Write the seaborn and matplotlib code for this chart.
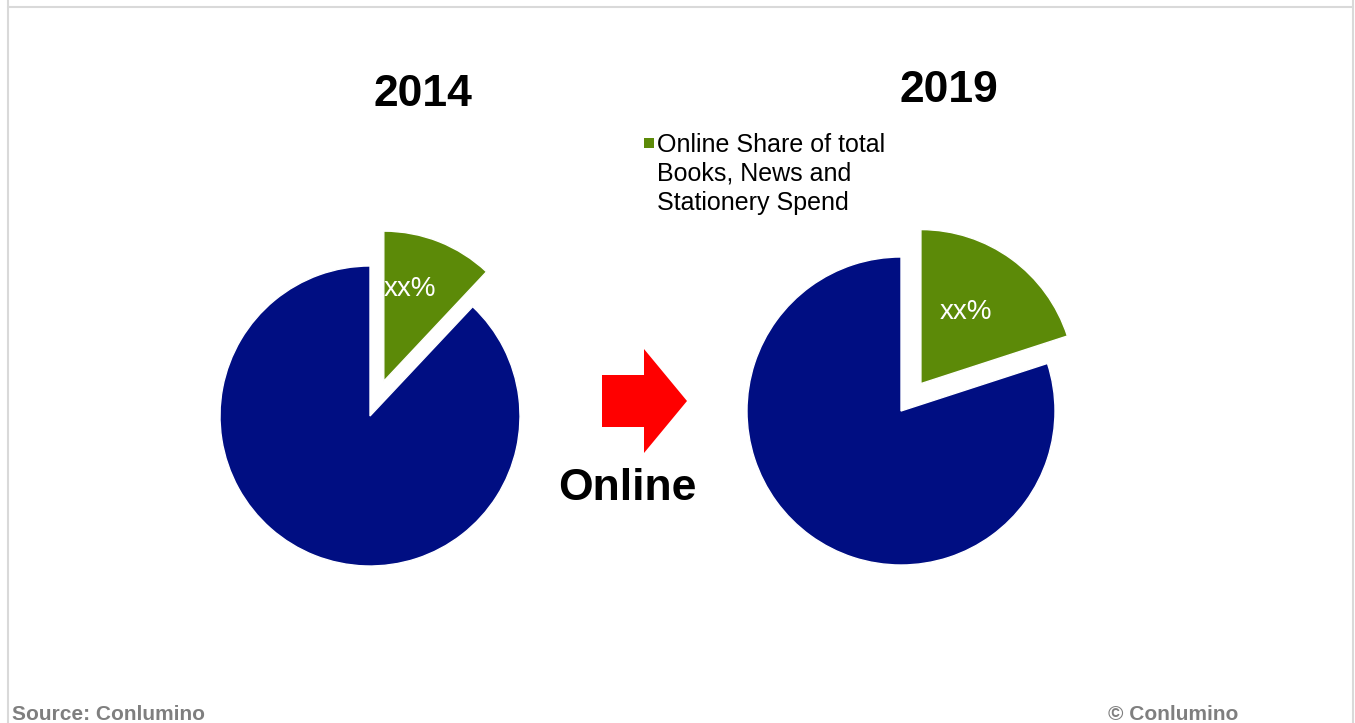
import matplotlib
matplotlib.use("Agg")
import matplotlib.pyplot as plt
from matplotlib.lines import Line2D
from matplotlib.patches import FancyArrow, Rectangle
import numpy as np
import seaborn as sns

# data
years = ["2014", "2019"]
online_share = [12, 20]
other_share = [88, 80]
pct_labels = ["xx%", "xx%"]
legend_label = "Online Share of total\nBooks, News and\nStationery Spend"
arrow_label = "Online"
source_text = "Source: Conlumino"
copyright_text = "\u00a9 Conlumino"

W, H = 1355, 723
GREEN = "#5C8A08"
BLUE = "#000E82"
GREY = "#7f7f7f"

sns.set_theme(style="white")
plt.rcParams["font.family"] = ["Liberation Sans", "DejaVu Sans"]
colors = sns.color_palette([GREEN, BLUE])

fig = plt.figure(figsize=(W / 100, H / 100), dpi=100)


def fx(x):
    return x / W


def fy(y):
    return 1 - y / H


# pie layouts: centre (px), radius (px), explode, label distance / angular position
pies = [
    dict(cx=370, cy=416, r=150, explode=0.25, ld=0.64, lf=0.36, title=(423, 94)),
    dict(cx=901, cy=411, r=154, explode=0.22, ld=0.55, lf=0.45, title=(949, 90)),
]

for i, p in enumerate(pies):
    side = 2.5 * p["r"]
    ax = fig.add_axes([fx(p["cx"] - side / 2), fy(p["cy"] + side / 2), side / W, side / H])
    wedges, texts = ax.pie(
        [online_share[i], other_share[i]],
        colors=colors,
        explode=[p["explode"], 0],
        startangle=90,
        counterclock=False,
    )
    # percentage label placed inside the online wedge
    w = wedges[0]
    th = np.deg2rad(w.theta2 - p["lf"] * (w.theta2 - w.theta1))
    wx, wy = w.center
    ax.text(wx + p["ld"] * w.r * np.cos(th), wy + p["ld"] * w.r * np.sin(th),
            pct_labels[i], ha="center", va="center", color="white", fontsize=20)
    ax.set_xlim(-1.25, 1.25)
    ax.set_ylim(-1.25, 1.25)
    ax.set_aspect("equal")
    ax.axis("off")
    tx, ty = p["title"]
    fig.text(fx(tx), fy(ty), years[i], ha="center", va="center",
             fontsize=32, fontweight="bold", color="black")

# legend (square marker aligned with first line)
fig.patches.append(Rectangle((fx(644), fy(148)), 10 / W, 10 / H,
                             transform=fig.transFigure, facecolor=GREEN,
                             edgecolor="none"))
fig.text(fx(657), fy(133), legend_label, ha="left", va="top", fontsize=18,
         color="black", linespacing=1.26)

# red arrow + "Online"
fig.patches.append(FancyArrow(fx(602), fy(401), 85 / W, 0, width=52 / H,
                              head_width=104 / H, head_length=43 / W,
                              length_includes_head=True,
                              transform=fig.transFigure, color="#ff0000",
                              linewidth=0))
fig.text(fx(627), fy(488), arrow_label, ha="center", va="center",
         fontsize=32, fontweight="bold", color="black")

# footer
fig.text(fx(12), fy(714), source_text, ha="left", va="center",
         fontsize=15, fontweight="bold", color=GREY)
fig.text(fx(1108), fy(714), copyright_text, ha="left", va="center",
         fontsize=15, fontweight="bold", color=GREY)

# slide frame
frame = dict(color="#d9d9d9", linewidth=1.5, transform=fig.transFigure)
fig.lines.append(Line2D([fx(8), fx(1353)], [fy(7), fy(7)], **frame))
fig.lines.append(Line2D([fx(8), fx(8)], [0, 1], **frame))
fig.lines.append(Line2D([fx(1353), fx(1353)], [0, 1], **frame))

fig.savefig("out.png", dpi=100, facecolor="white")
